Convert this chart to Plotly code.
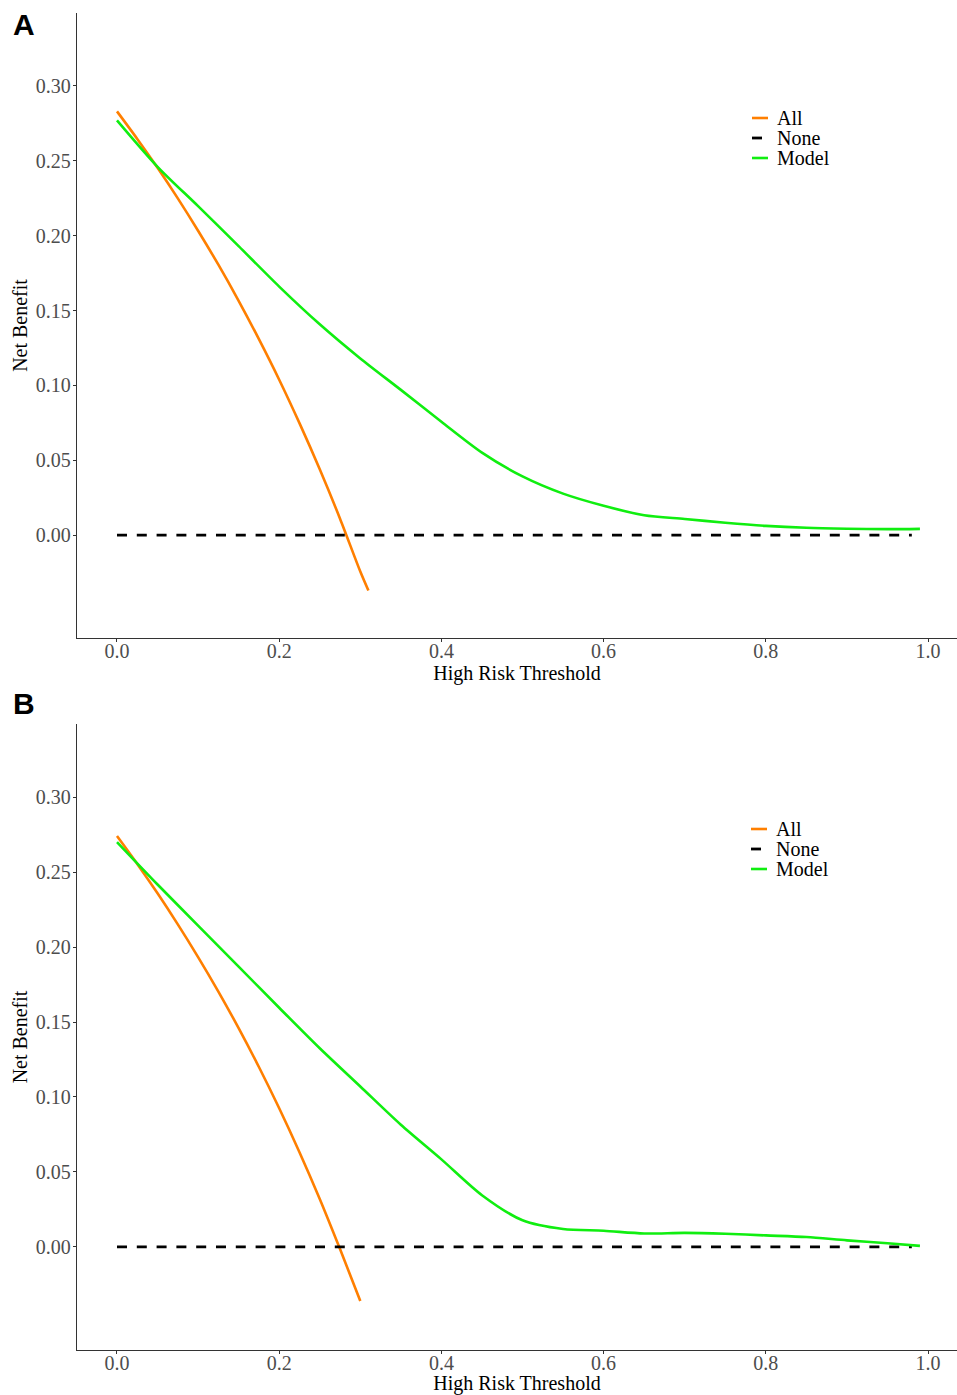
import plotly.graph_objects as go

W, H = 957, 1395

# ---- Panel A: decision curves ----
thr_all_a = [0, 0.025, 0.05, 0.075, 0.1, 0.125, 0.15, 0.175, 0.2, 0.225, 0.25, 0.275, 0.3, 0.31]
nb_all_a = [0.283, 0.2646, 0.2453, 0.2249, 0.2033, 0.1806, 0.1565, 0.1309, 0.1038, 0.0748, 0.044, 0.011, -0.0243, -0.037]
thr_none_a = [0, 0.98]
nb_none_a = [0, 0]
thr_model_a = [0, 0.05, 0.1, 0.15, 0.2, 0.25, 0.3, 0.35, 0.4, 0.45, 0.5, 0.55, 0.6, 0.65, 0.7, 0.75, 0.8, 0.85, 0.9, 0.95, 0.99]
nb_model_a = [0.277, 0.246, 0.2197, 0.193, 0.166, 0.1408, 0.118, 0.097, 0.0757, 0.0551, 0.0392, 0.0277, 0.0196,
              0.0133, 0.0108, 0.0083, 0.0062, 0.0049, 0.0043, 0.004, 0.0042]

# ---- Panel B: decision curves ----
thr_all_b = [0, 0.025, 0.05, 0.075, 0.1, 0.125, 0.15, 0.175, 0.2, 0.225, 0.25, 0.275, 0.3]
nb_all_b = [0.274, 0.2554, 0.2358, 0.2151, 0.1933, 0.1703, 0.1459, 0.12, 0.0925, 0.0632, 0.032, -0.0014, -0.036]
thr_none_b = [0, 0.98]
nb_none_b = [0, 0]
thr_model_b = [0, 0.05, 0.1, 0.15, 0.2, 0.25, 0.3, 0.35, 0.4, 0.45, 0.5, 0.55, 0.6, 0.65, 0.7, 0.75, 0.8, 0.85, 0.9, 0.95, 0.99]
nb_model_b = [0.270, 0.2417, 0.2143, 0.1869, 0.1595, 0.1325, 0.107, 0.0815, 0.0584, 0.0345, 0.0178, 0.012, 0.0108,
              0.009, 0.0094, 0.0088, 0.0077, 0.0066, 0.0044, 0.0025, 0.0007]

series_names = ["All", "None", "Model"]
panel_labels = ["A", "B"]
x_ticks = [0.0, 0.2, 0.4, 0.6, 0.8, 1.0]
x_ticktext = ["0.0", "0.2", "0.4", "0.6", "0.8", "1.0"]
y_ticks = [0.0, 0.05, 0.10, 0.15, 0.20, 0.25, 0.30]
y_ticktext = ["0.00", "0.05", "0.10", "0.15", "0.20", "0.25", "0.30"]

ORANGE = "#FF7F00"
BLACK = "#000000"
GREEN = "#10EE10"
DASH = "10px,9.8px"
styles = {
    "All": dict(color=ORANGE, width=2.6),
    "None": dict(color=BLACK, width=2.8, dash=DASH),
    "Model": dict(color=GREEN, width=2.6),
}
SERIF = "Liberation Serif"
AXIS_COLOR = "#333333"
TICK_COLOR = "#4D4D4D"


def px_x(x):
    return x / W


def px_y(y):
    return 1 - y / H


panels = [
    dict(all=(thr_all_a, nb_all_a), none=(thr_none_a, nb_none_a), model=(thr_model_a, nb_model_a),
         top=13, bottom=638, xa="x", ya="y"),
    dict(all=(thr_all_b, nb_all_b), none=(thr_none_b, nb_none_b), model=(thr_model_b, nb_model_b),
         top=724, bottom=1350, xa="x2", ya="y2"),
]

fig = go.Figure()
for p in panels:
    for name, key in zip(series_names, ["all", "none", "model"]):
        xs, ys = p[key]
        line = dict(styles[name])
        if name != "None":
            line.update(shape="spline", smoothing=0.8)
        fig.add_trace(go.Scatter(x=xs, y=ys, mode="lines", name=name, line=line,
                                 xaxis=p["xa"], yaxis=p["ya"], showlegend=False))

PLOT_LEFT = 77
x_range = [-0.0493, 1.0357]
y_range = [-0.0687, 0.3487]


def xaxis_cfg(anchor):
    return dict(domain=[px_x(PLOT_LEFT), 1], anchor=anchor, range=x_range,
                tickmode="array", tickvals=x_ticks, ticktext=x_ticktext,
                showline=True, linecolor=AXIS_COLOR, linewidth=1.3, mirror=False,
                ticks="outside", ticklen=3, tickwidth=1.1, tickcolor=AXIS_COLOR,
                ticklabelstandoff=-8,
                showgrid=False, zeroline=False,
                tickfont=dict(family=SERIF, size=20, color=TICK_COLOR),
                title=dict(text="High Risk Threshold", font=dict(family=SERIF, size=20, color="black"),
                           standoff=1))


def yaxis_cfg(anchor, top, bottom):
    return dict(domain=[px_y(bottom), px_y(top)], anchor=anchor, range=y_range,
                tickmode="array", tickvals=y_ticks, ticktext=y_ticktext,
                showline=True, linecolor=AXIS_COLOR, linewidth=1.3, mirror=False,
                ticks="outside", ticklen=3, tickwidth=1.1, tickcolor=AXIS_COLOR,
                ticklabelstandoff=-2,
                showgrid=False, zeroline=False,
                tickfont=dict(family=SERIF, size=20, color=TICK_COLOR),
                title=dict(text="Net Benefit", font=dict(family=SERIF, size=20, color="black"),
                           standoff=2))


fig.update_layout(
    width=W, height=H,
    margin=dict(l=0, r=0, t=0, b=0),
    paper_bgcolor="white", plot_bgcolor="white",
    showlegend=False,
    xaxis=xaxis_cfg("y"),
    yaxis=yaxis_cfg("x", panels[0]["top"], panels[0]["bottom"]),
    xaxis2=xaxis_cfg("y2"),
    yaxis2=yaxis_cfg("x2", panels[1]["top"], panels[1]["bottom"]),
)

# Panel letters
annotations = []
shapes = []
letter_pos = [(11, 25), (11, 703)]
for lab, (lx, ly) in zip(panel_labels, letter_pos):
    annotations.append(dict(text=f"<b>{lab}</b>", x=px_x(lx), y=px_y(ly), xref="paper", yref="paper",
                            xanchor="left", yanchor="middle", showarrow=False,
                            font=dict(family="Liberation Sans", size=30, color="black")))

# Legends (one per panel)
legend_origin = [(752, 118), (751, 829)]
for (lx, ly) in legend_origin:
    for i, name in enumerate(series_names):
        yy = ly + 20 * i
        st = styles[name]
        shapes.append(dict(type="line", xref="paper", yref="paper",
                           x0=px_x(lx), x1=px_x(lx + 16), y0=px_y(yy), y1=px_y(yy),
                           line=dict(color=st["color"], width=st["width"], dash=st.get("dash", "solid"))))
        annotations.append(dict(text=name, x=px_x(lx + 23), y=px_y(yy), xref="paper", yref="paper",
                                xanchor="left", yanchor="middle", showarrow=False,
                                font=dict(family=SERIF, size=20, color="black")))

fig.update_layout(annotations=annotations, shapes=shapes)
fig.write_html("out.html")
